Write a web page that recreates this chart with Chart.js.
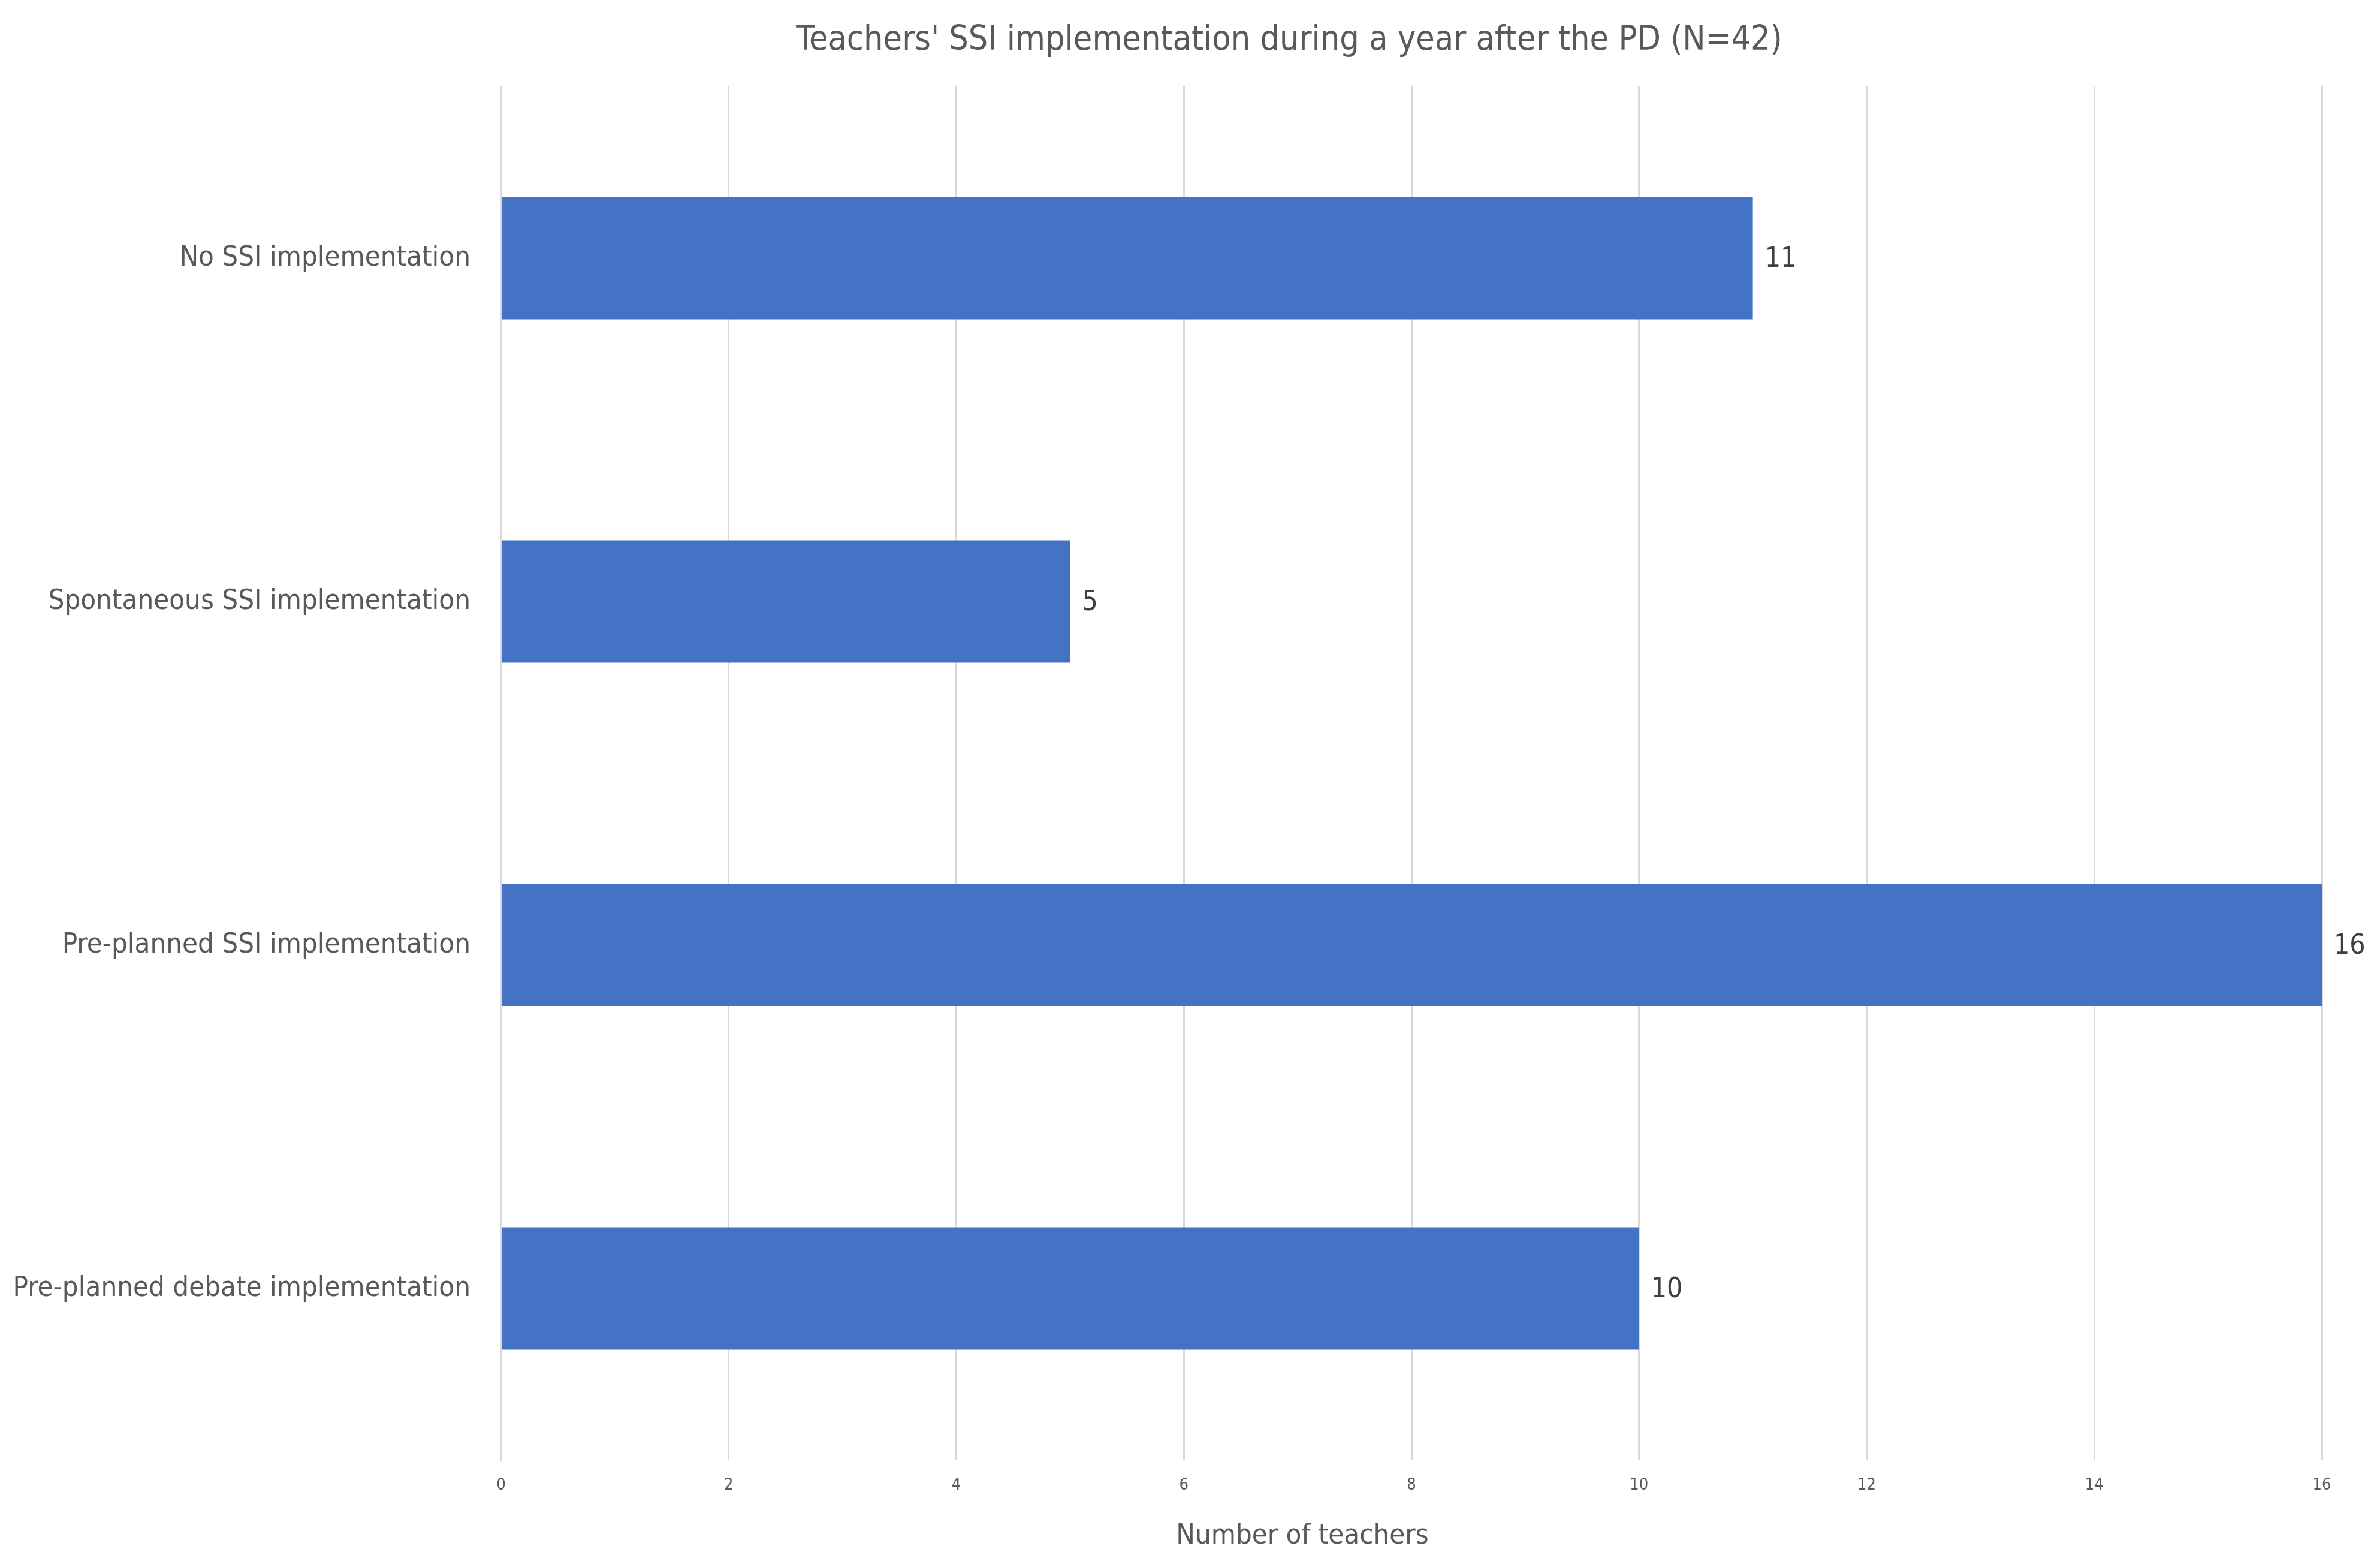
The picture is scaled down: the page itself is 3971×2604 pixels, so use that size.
<!DOCTYPE html>
<html>
<head>
<meta charset="utf-8">
<script src="https://cdn.jsdelivr.net/npm/chart.js@4/dist/chart.umd.min.js"></script>
<style>
  html, body { margin: 0; padding: 0; background: #fff; }
  #wrap { width: 3971px; height: 2604px; }
</style>
</head>
<body>
<div id="wrap"><canvas id="ssi-chart"></canvas></div>
<script>
var categories = ['No SSI implementation', 'Spontaneous SSI implementation', 'Pre-planned SSI implementation', 'Pre-planned debate implementation'];
var teacherCounts = [11, 5, 16, 10];
var xTicks = [0, 2, 4, 6, 8, 10, 12, 14, 16];
var chartTitle = "Teachers' SSI implementation during a year after the PD (N=42)";
var xAxisTitle = 'Number of teachers';

var FONT = "'Liberation Sans Narrow', 'DejaVu Sans Condensed', 'Open Sans', sans-serif";
Chart.defaults.font.family = FONT;
Chart.defaults.color = '#595959';

// value labels next to the bars + the two titles (Excel places them off-centre)
var annotate = {
    id: 'annotate',
    afterDraw: function(chart) {
        var ctx = chart.ctx;
        var meta = chart.getDatasetMeta(0);
        ctx.save();
        ctx.font = '46px ' + FONT;
        ctx.fillStyle = '#404040';
        ctx.textAlign = 'left';
        ctx.textBaseline = 'middle';
        meta.data.forEach(function(bar, i) {
            ctx.fillText(String(teacherCounts[i]), bar.x + 20, bar.y + 3);
        });

        ctx.fillStyle = '#595959';
        ctx.textAlign = 'center';
        ctx.font = '57px ' + FONT;
        ctx.fillText(chartTitle, 2151, 68);
        ctx.font = '47px ' + FONT;
        ctx.fillText(xAxisTitle, 2173, 2563);
        ctx.restore();
    }
};

var ctx = document.getElementById('ssi-chart');
var ssiChart = new Chart(ctx, {
    type: 'bar',
    data: {
        labels: categories,
        datasets: [{
            data: teacherCounts,
            backgroundColor: '#4472C4',
            borderWidth: 0,
            categoryPercentage: 1,
            barPercentage: 0.356
        }]
    },
    options: {
        indexAxis: 'y',
        responsive: true,
        maintainAspectRatio: false,
        animation: false,
        layout: { padding: { left: 0, right: 97, top: 144, bottom: 0 } },
        plugins: {
            legend: { display: false },
            tooltip: { enabled: false },
            title: { display: false }
        },
        scales: {
            x: {
                min: 0,
                max: 16,
                afterBuildTicks: function(axis) {
                    axis.ticks = xTicks.map(function(v) { return { value: v }; });
                },
                afterFit: function(axis) { axis.height = 168; },
                grid: { color: '#d9d9d9', lineWidth: 3, drawTicks: false },
                border: { display: false },
                ticks: { font: { size: 27 }, color: '#595959', padding: 26 }
            },
            y: {
                afterFit: function(axis) { axis.width = 836; },
                grid: { display: false, drawTicks: false },
                border: { display: true, color: '#d9d9d9', width: 3 },
                ticks: { font: { size: 47 }, color: '#595959', padding: 51 }
            }
        }
    },
    plugins: [annotate]
});
</script>
</body>
</html>
